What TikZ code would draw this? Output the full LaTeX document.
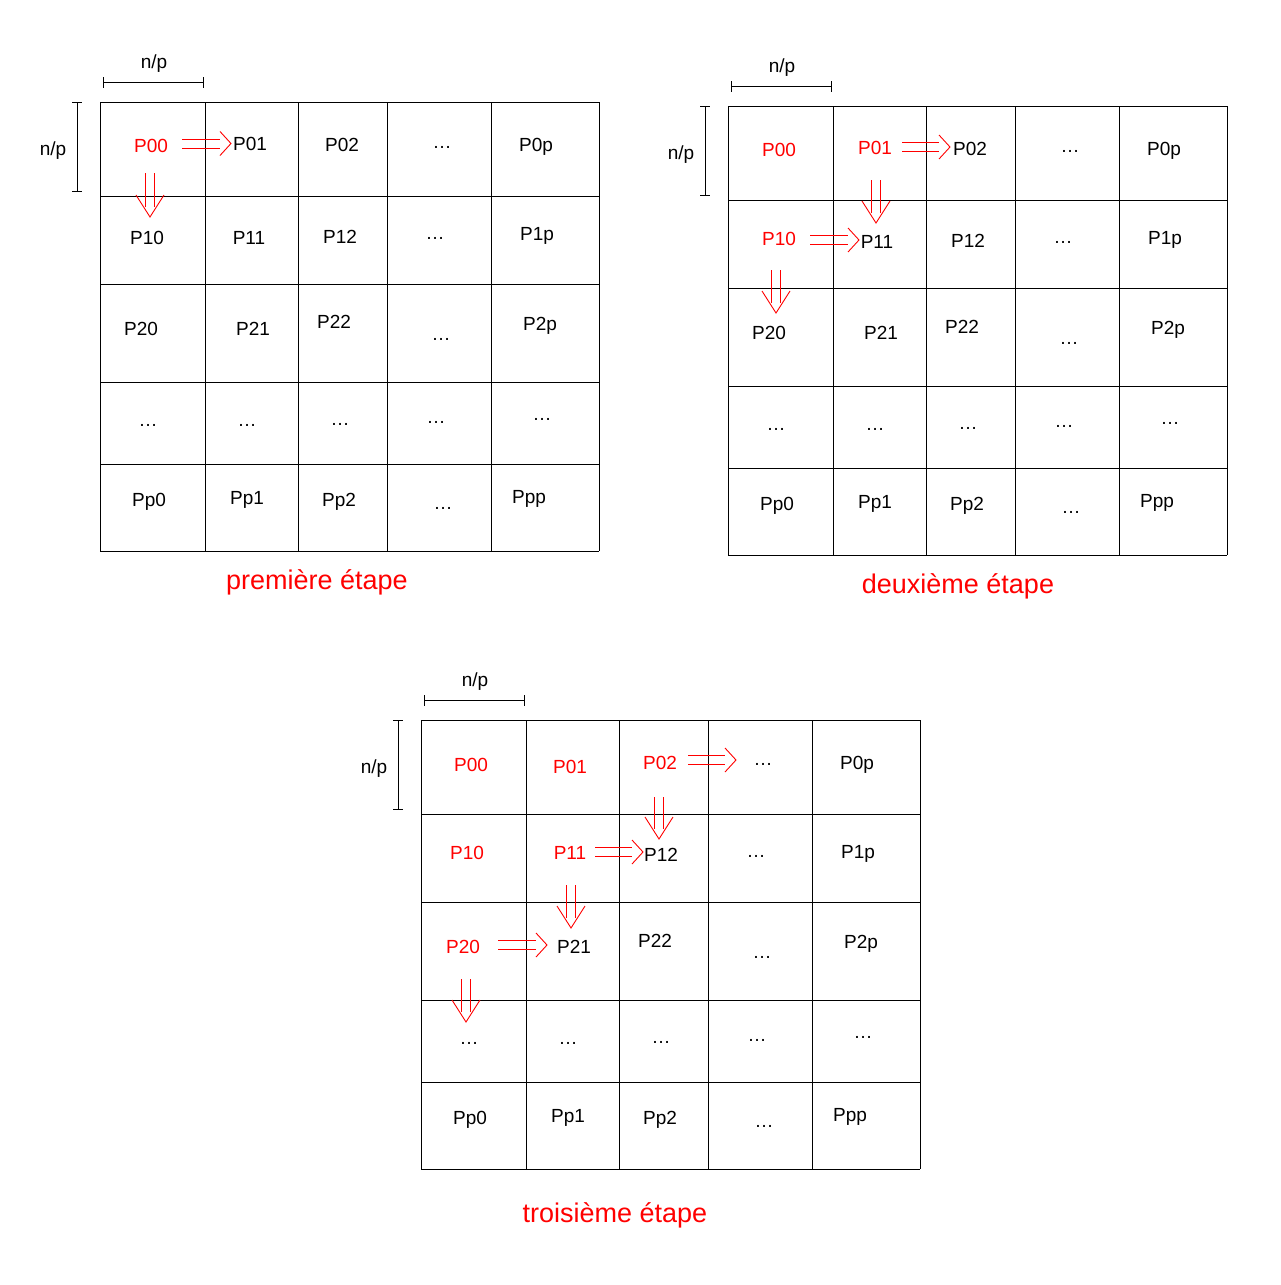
\documentclass[tikz,border=0pt]{standalone}
\usepackage{fontspec}
\setmainfont{Liberation Sans}
\begin{document}
\begin{tikzpicture}[x=1pt,y=-1pt,
  gridline/.style={black,line width=1pt},
  bar/.style={black,line width=1pt},
  arr/.style={red,line width=0.9pt},
  lbl/.style={inner sep=0pt,yshift=-1.5pt,font=\fontsize{19}{19}\selectfont},
  rlbl/.style={lbl,text=red},
  title/.style={inner sep=0pt,text=red,font=\fontsize{27}{27}\selectfont}]
\useasboundingbox[fill=white] (0,0) rectangle (1280,1285);
\newcommand\myH[3]{%
  \draw[arr] (#1,#3-4.5) -- (#2-11,#3-4.5);
  \draw[arr] (#1,#3+4.5) -- (#2-11,#3+4.5);
  \draw[arr] (#2-11,#3-12) -- (#2,#3) -- (#2-11,#3+12);}
\newcommand\myV[3]{%
  \draw[arr] (#1-4.5,#2) -- (#1-4.5,#3-10);
  \draw[arr] (#1+4.5,#2) -- (#1+4.5,#3-10);
  \draw[arr] (#1-14,#3-22) -- (#1,#3) -- (#1+14,#3-22);}
% ---------------- grid 1
\foreach \x in {100,205,298,387,491,599} \draw[gridline] (\x,102) -- (\x,551);
\foreach \y in {102,196,284,382,464,551} \draw[gridline] (100,\y) -- (599,\y);
\draw[bar] (103,82) -- (203,82); \draw[bar] (103,77) -- (103,88); \draw[bar] (203,77) -- (203,88);
\node[lbl] (h1) at (154,62) {n/p};
\draw[bar] (77,102) -- (77,191); \draw[bar] (72,102) -- (82,102); \draw[bar] (72,191) -- (82,191);
\node[lbl] (v1) at (53,149) {n/p};
\node[rlbl] (a00) at (151,144) {P00};
\node[lbl] (a01) at (250,142) {P01};
\node[lbl] (a02) at (342,143) {P02};
\node[lbl] (a03) at (442,146) {…};
\node[lbl] (a04) at (536,145) {P0p};
\node[lbl] (a10) at (147,236) {P10};
\node[lbl] (a11) at (249,236) {P11};
\node[lbl] (a12) at (340,235) {P12};
\node[lbl] (a13) at (435,237) {…};
\node[lbl] (a14) at (537,234) {P1p};
\node[lbl] (a20) at (141,327) {P20};
\node[lbl] (a21) at (253,327) {P21};
\node[lbl] (a22) at (334,320) {P22};
\node[lbl] (a23) at (441,338) {…};
\node[lbl] (a24) at (540,324) {P2p};
\node[lbl] (a30) at (148,424) {…};
\node[lbl] (a31) at (247,424) {…};
\node[lbl] (a32) at (340,423) {…};
\node[lbl] (a33) at (436,421) {…};
\node[lbl] (a34) at (542,418) {…};
\node[lbl] (a40) at (149,500) {Pp0};
\node[lbl] (a41) at (247,498) {Pp1};
\node[lbl] (a42) at (339,500) {Pp2};
\node[lbl] (a43) at (443,507) {…};
\node[lbl] (a44) at (529,497) {Ppp};
\myH{182}{231}{143.5}
\myV{150}{173}{217}
\node[title] (t1) at (317,582) {première étape};
% ---------------- grid 2
\foreach \x in {728,833,926,1015,1119,1227} \draw[gridline] (\x,106) -- (\x,555);
\foreach \y in {106,200,288,386,468,555} \draw[gridline] (728,\y) -- (1227,\y);
\draw[bar] (731,86) -- (831,86); \draw[bar] (731,81) -- (731,92); \draw[bar] (831,81) -- (831,92);
\node[lbl] (h2) at (782,66) {n/p};
\draw[bar] (705,106) -- (705,195); \draw[bar] (700,106) -- (710,106); \draw[bar] (700,195) -- (710,195);
\node[lbl] (v2) at (681,153) {n/p};
\node[rlbl] (b00) at (779,148) {P00};
\node[rlbl] (b01) at (875,146) {P01};
\node[lbl] (b02) at (970,147) {P02};
\node[lbl] (b03) at (1070,150) {…};
\node[lbl] (b04) at (1164,149) {P0p};
\node[rlbl] (b10) at (779,237) {P10};
\node[lbl] (b11) at (877,240) {P11};
\node[lbl] (b12) at (968,239) {P12};
\node[lbl] (b13) at (1063,241) {…};
\node[lbl] (b14) at (1165,238) {P1p};
\node[lbl] (b20) at (769,331) {P20};
\node[lbl] (b21) at (881,331) {P21};
\node[lbl] (b22) at (962,325) {P22};
\node[lbl] (b23) at (1069,342) {…};
\node[lbl] (b24) at (1168,328) {P2p};
\node[lbl] (b30) at (776,428) {…};
\node[lbl] (b31) at (875,428) {…};
\node[lbl] (b32) at (968,427) {…};
\node[lbl] (b33) at (1064,425) {…};
\node[lbl] (b34) at (1170,422) {…};
\node[lbl] (b40) at (777,504) {Pp0};
\node[lbl] (b41) at (875,502) {Pp1};
\node[lbl] (b42) at (967,504) {Pp2};
\node[lbl] (b43) at (1071,511) {…};
\node[lbl] (b44) at (1157,501) {Ppp};
\myH{902}{950}{147}
\myH{810}{859}{240}
\myV{876}{180}{223}
\myV{776}{270}{313}
\node[title] (t2) at (958,586) {deuxième étape};
% ---------------- grid 3
\foreach \x in {421,526,619,708,812,920} \draw[gridline] (\x,720) -- (\x,1169);
\foreach \y in {720,814,902,1000,1082,1169} \draw[gridline] (421,\y) -- (920,\y);
\draw[bar] (424,700) -- (524,700); \draw[bar] (424,695) -- (424,706); \draw[bar] (524,695) -- (524,706);
\node[lbl] (h3) at (475,680) {n/p};
\draw[bar] (398,720) -- (398,809); \draw[bar] (393,720) -- (403,720); \draw[bar] (393,809) -- (403,809);
\node[lbl] (v3) at (374,767) {n/p};
\node[rlbl] (c00) at (471,763) {P00};
\node[rlbl] (c01) at (570,765) {P01};
\node[rlbl] (c02) at (660,761) {P02};
\node[lbl] (c03) at (763,763) {…};
\node[lbl] (c04) at (857,763) {P0p};
\node[rlbl] (c10) at (467,851) {P10};
\node[rlbl] (c11) at (570,851) {P11};
\node[lbl] (c12) at (661,853) {P12};
\node[lbl] (c13) at (756,855) {…};
\node[lbl] (c14) at (858,852) {P1p};
\node[rlbl] (c20) at (463,945) {P20};
\node[lbl] (c21) at (574,945) {P21};
\node[lbl] (c22) at (655,939) {P22};
\node[lbl] (c23) at (762,956) {…};
\node[lbl] (c24) at (861,942) {P2p};
\node[lbl] (c30) at (469,1042) {…};
\node[lbl] (c31) at (568,1042) {…};
\node[lbl] (c32) at (661,1041) {…};
\node[lbl] (c33) at (757,1039) {…};
\node[lbl] (c34) at (863,1036) {…};
\node[lbl] (c40) at (470,1118) {Pp0};
\node[lbl] (c41) at (568,1116) {Pp1};
\node[lbl] (c42) at (660,1118) {Pp2};
\node[lbl] (c43) at (764,1125) {…};
\node[lbl] (c44) at (850,1115) {Ppp};
\myH{688}{736}{760}
\myH{595}{643}{852}
\myH{498}{547}{945}
\myV{659}{797}{839}
\myV{571}{885}{928}
\myV{466}{979}{1022}
\node[title] (t3) at (615,1215) {troisième étape};
\end{tikzpicture}
\end{document}
